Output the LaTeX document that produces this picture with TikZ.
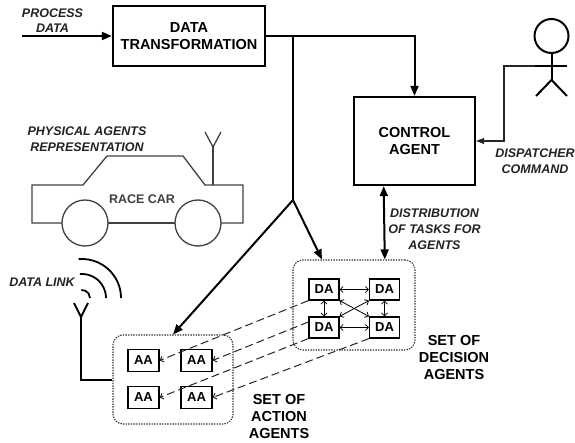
\documentclass[tikz,border=0pt]{standalone}
\usepackage{fontspec}
\setmainfont{Liberation Sans}
\usetikzlibrary{arrows.meta,calc}

\definecolor{labelgray}{HTML}{222222}
\definecolor{cargray}{HTML}{404040}
\definecolor{setgray}{HTML}{333333}

\tikzset{
  wire/.style={line width=2pt, black},
  fine/.style={line width=1.1pt, black!85},
  bigtip/.style={-{Triangle[length=10pt,width=8pt]}},
  mainbox/.style={draw, line width=2.3pt, align=center, inner sep=0pt,
    font=\bfseries\fontsize{14.5}{17}\selectfont},
  agentbox/.style={draw, line width=1.2pt, inner sep=0pt,
    minimum width=30pt, minimum height=21pt,
    font=\bfseries\fontsize{13}{15}\selectfont},
  setbox/.style={draw=setgray, line width=1.1pt, rounded corners=10pt,
    dash pattern=on 1.4pt off 1.2pt, inner sep=0pt},
  italabel/.style={align=center, text=labelgray, inner sep=0pt,
    font=\bfseries\itshape\fontsize{12.5}{15.8}\selectfont},
  settext/.style={align=center, inner sep=0pt,
    font=\bfseries\fontsize{14.5}{17}\selectfont},
  linkarrow/.style={line width=0.8pt, black, {Straight Barb[length=3pt,width=6pt]}-{Straight Barb[length=3pt,width=6pt]}},
  taskline/.style={line width=1pt, black!85, dash pattern=on 8pt off 4pt,
    -{Straight Barb[length=3pt,width=6pt]}},
  car/.style={line width=1.3pt, cargray},
  figure/.style={line width=2pt, black},
  wave/.style={line width=1.8pt, black},
}

\begin{document}
\begin{tikzpicture}[x=1pt, y=-1pt]
  \useasboundingbox (0,0) rectangle (575,443);

  % main processing blocks
  \node[mainbox, minimum width=152pt, minimum height=60pt] (dt) at (189,36)
    {DATA\\TRANSFORMATION};
  \node[mainbox, minimum width=121pt, minimum height=88pt] (ca) at (414.5,141)
    {CONTROL\\AGENT};

  % agent groups
  \node[setbox, minimum width=122pt, minimum height=90pt] (dset) at (354,305) {};
  \node[setbox, minimum width=120pt, minimum height=89pt] (aset) at (173,379.5) {};

  \node[agentbox] (dtl) at (324,289.5) {DA};
  \node[agentbox] (dtr) at (384.5,289.5) {DA};
  \node[agentbox] (dbl) at (324,327.5) {DA};
  \node[agentbox] (dbr) at (384.5,327.5) {DA};

  \node[agentbox, minimum width=31pt, minimum height=22pt] (atl) at (143.5,360.5) {AA};
  \node[agentbox, minimum width=31pt, minimum height=22pt] (atr) at (196.5,360.5) {AA};
  \node[agentbox, minimum width=31pt, minimum height=22pt] (abl) at (143.5,397.5) {AA};
  \node[agentbox, minimum width=31pt, minimum height=22pt] (abr) at (196.5,397.5) {AA};

  % labels
  \node[italabel] (lproc) at (52.5,20.6) {PROCESS\\DATA};
  \node[italabel] (lphys) at (87,139.5) {PHYSICAL AGENTS\\REPRESENTATION};
  \node[italabel] (llink) at (42,282) {DATA LINK};
  \node[italabel] (ldist) at (434.5,229) {DISTRIBUTION\\OF TASKS FOR\\AGENTS};
  \node[italabel] (ldisp) at (535,161.5) {DISPATCHER\\COMMAND};
  \node[settext] (lact) at (279,417) {SET OF\\ACTION\\AGENTS};
  \node[settext] (ldec) at (454,357.5) {SET OF\\DECISION\\AGENTS};

  % data flow
  \coordinate (src) at (22,36);
  \coordinate (fork) at (293,200);
  \draw[wire, bigtip] (src) -- (dt.west);
  \draw[wire, bigtip] (dt.east) -| (ca.north);
  \draw[wire] (dt.east -| fork) -- (fork);
  \draw[wire, bigtip] (fork) -- (aset.north);
  \draw[wire, bigtip] (fork) -- ($(dset.north west)!0.24!(dset.north east)$);
  \draw[wire, {Triangle[length=10pt,width=8pt]}-{Triangle[length=10pt,width=8pt]}]
    ($(ca.south west)!0.25!(ca.south east)$) --
    ($(dset.north west)!0.75!(dset.north east)$);

  % dispatcher
  \draw[figure] (551.5,36) circle[radius=17pt];
  \coordinate (neck) at (551.5,53);
  \coordinate (hip) at (551.5,80);
  \coordinate (hand) at (535,66);
  \draw[figure] (neck) -- (hip);
  \draw[figure] (hand) -- (567,66);
  \draw[figure] (536,96) -- (hip) -- (567,96);
  \draw[fine, -{Triangle[length=8pt,width=6pt]}] (hand) -- (504,66) |- (ca.east);

  % links between decision agents
  \draw[linkarrow] (dtl.east) -- (dtr.west);
  \draw[linkarrow] (dbl.east) -- (dbr.west);
  \draw[linkarrow] (dtl.south) -- (dbl.north);
  \draw[linkarrow] (dtr.south) -- (dbr.north);
  \draw[linkarrow] (dtl.south east) -- (dbr.north west);
  \draw[linkarrow] (dtr.south west) -- (dbl.north east);

  % tasks passed to action agents
  \draw[taskline] (dtl.south west) -- (atl.east);
  \draw[taskline] ($(dbl.north west)!0.25!(dbl.south west)$) -- (atr.east);
  \draw[taskline] (dbl.south west) -- (abl.east);
  \draw[taskline] (dbr.south west) -- (abr.east);

  % race car
  \draw[car] (62,223) -- (32,223) -- (32,185) -- (83,185) -- (107,156)
    -- (183,156) -- (205,185) -- (243,185) -- (243,223) -- (221,223);
  \draw[car] (108,223) -- (175,223);
  \draw[car] (85,223) circle[radius=23pt];
  \draw[car] (198,223) circle[radius=23pt];
  \draw[car] (213,185) -- (213,147);
  \draw[car] (205,132) -- (213,147) -- (221,132);
  \node[text=cargray, font=\bfseries\fontsize{12.5}{15}\selectfont] (lcar) at (142,199) {RACE CAR};

  % radio link antenna; the start points use the flipped y axis,
  % the arc angles are those of the page
  \draw[wire, line width=1.8pt] (74,303) -- (81,317) -- (88,303);
  \draw[wire] (81,317) |- (aset.west);
  \coordinate (waves) at (82,298);
  \draw[wave] (waves) ++(-95:8) arc[start angle=95, end angle=0, radius=8pt];
  \draw[wave] (waves) ++(-95:24) arc[start angle=95, end angle=0, radius=24pt];
  \draw[wave] (waves) ++(-95:39) arc[start angle=95, end angle=0, radius=39pt];
\end{tikzpicture}
\end{document}
